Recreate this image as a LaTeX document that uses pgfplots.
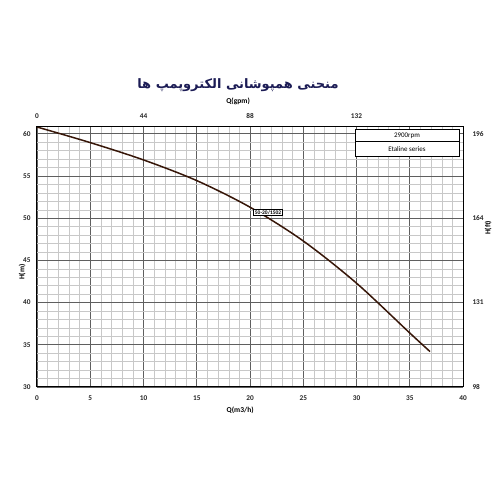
\documentclass[border=0pt]{standalone}
\usepackage{fontspec}
\setmainfont{Carlito}
\newfontfamily\arabicfont[Script=Arabic]{DejaVu Sans}
\TeXXeTstate=1
\usepackage{pgfplots}
\pgfplotsset{compat=1.18}

\definecolor{curve}{RGB}{55,22,8}
\definecolor{navy}{RGB}{28,28,85}
\definecolor{majgrid}{RGB}{95,95,95}
\definecolor{mingrid}{RGB}{200,200,200}

\pgfplotsset{
  pumpaxis/.style={
    at={(37pt,113pt)}, anchor=south west,
    scale only axis, width=426pt, height=260pt,
    xmin=0, xmax=40, ymin=30, ymax=60.8,
    major tick length=0pt, minor tick length=0pt,
    /pgf/number format/assume math mode=true,
    tick label style={font=\fontsize{7.3}{8}\selectfont\bfseries, text=black!85},
    label style={font=\fontsize{7.5}{9}\selectfont\bfseries},
  }
}

\begin{document}
\begin{tikzpicture}
\path[use as bounding box] (0,0) rectangle (500pt,500pt);

\begin{axis}[pumpaxis,
  axis line style={line width=1pt},
  xtick={0,5,...,40}, ytick={30,35,...,60},
  minor tick num=4,
  grid=both,
  major grid style={majgrid, line width=0.6pt},
  minor grid style={mingrid, line width=0.4pt},
  xticklabel style={yshift=-5pt},
  yticklabel style={xshift=-3pt},
  xlabel={Q(m3/h)}, ylabel={H(m)},
  xlabel style={at={(axis description cs:0.477,-0.09)}, anchor=center},
  ylabel style={at={(axis description cs:-0.035,0.442)}, anchor=center},
]
\addplot[curve, line width=1.5pt, smooth] coordinates {
  (0,60.8) (5,58.95) (10,56.9) (15,54.45) (20,51.3)
  (25,47.3) (30,42.3) (35,36.4) (36.9,34.2)
};
% model label
\node[draw=black, fill=white, line width=0.6pt, inner sep=1.2pt,
  font=\fontsize{5.5}{6}\selectfont\bfseries]
  at (axis cs:21.7,50.7) {50-20/1502};
% speed / series box
\draw[black, line width=0.6pt, fill=white]
  (axis cs:29.86,60.56) rectangle (axis cs:39.62,59.05);
\draw[black, line width=0.6pt, fill=white]
  (axis cs:29.86,59.05) rectangle (axis cs:39.62,57.27);
\node[font=\fontsize{7}{8}\selectfont] at (axis cs:34.74,59.8) {2900rpm};
\node[font=\fontsize{7}{8}\selectfont] at (axis cs:34.74,58.15) {Etaline series};
\end{axis}

\begin{axis}[pumpaxis,
  axis x line*=top, axis y line*=right,
  axis line style={line width=1pt},
  xtick={0,10,20,30}, xticklabels={0,44,88,132},
  ytick={30,40,50,60}, yticklabels={98,131,164,196},
  xticklabel style={yshift=5pt},
  yticklabel style={xshift=6pt},
  xlabel={Q(gpm)}, ylabel={H(ft)},
  xlabel style={at={(axis description cs:0.472,1.1)}, anchor=center},
  ylabel style={at={(axis description cs:1.059,0.612)}, anchor=center, rotate=0},
]
\end{axis}

\node[text=navy, font=\arabicfont\bfseries\fontsize{13}{15}\selectfont]
  at (238pt,415pt) {\beginR منحنی همپوشانی الکتروپمپ ها\endR};
\end{tikzpicture}
\end{document}
